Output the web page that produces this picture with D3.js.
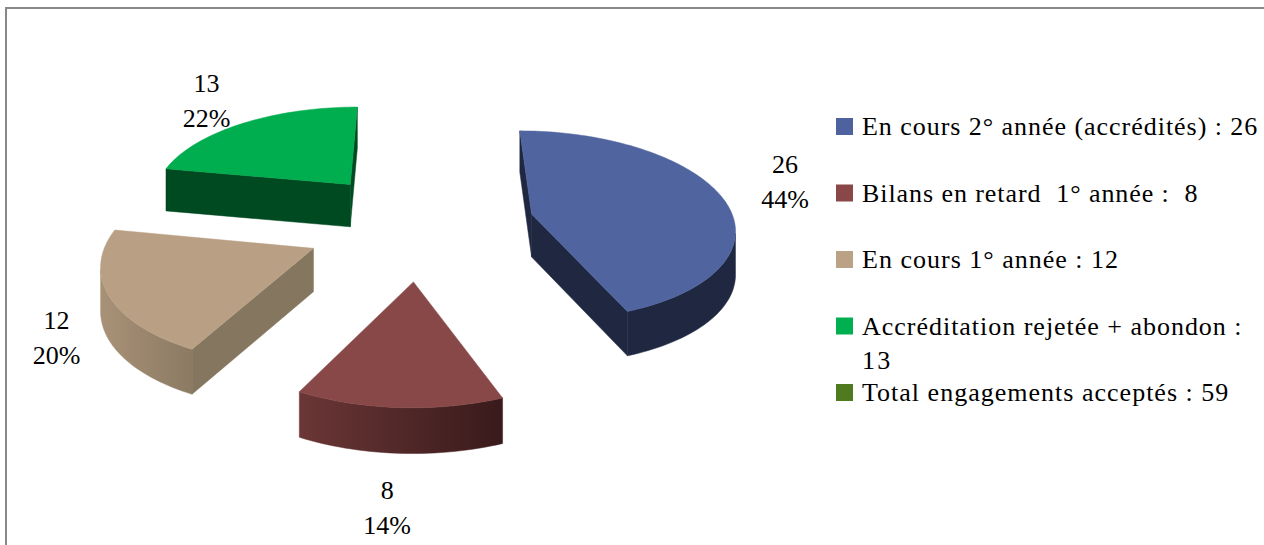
<!DOCTYPE html>
<html>
<head>
<meta charset="utf-8">
<script src="https://cdn.jsdelivr.net/npm/d3@7"></script>
<style>
  body { margin: 0; background: #fff; }
  svg { display: block; }
</style>
</head>
<body>
<svg id="chart" width="1264" height="545"></svg>
<script>
// legend categories, as written in the source sheet
var categories = [
    "En cours 2° année (accrédités) : 26",
    "Bilans en retard  1° année :  8",
    "En cours 1° année : 12",
    "Accréditation rejetée + abondon : 13",
    "Total engagements acceptés : 59"
];
// values plotted as slices (the total only shows in the legend)
var sliceValues = [26, 8, 12, 13];

// colours: legend swatches, slice tops, side walls
var legendColors = ["#4F62A0", "#8A4747", "#BBA285", "#00B050", "#4F7A1F"];
var topColors = ["#5065A0", "#884848", "#B9A085", "#00AD4F"];
var wallColors = [["#1F2840", "#1F2840"], ["#6B3636", "#391A1B"], ["#A89177", "#8C7A63"], ["#004A22", "#004A22"]];
var radialColors = ["#1F2840", "#5A2B2B", "#85765F", "#004A22"];
// where the data labels sit, relative to the outer rim of each slice
var labelShift = [[63, -16], [-12, 100], [-52, 42], [-36, -23]];

var fontFamily = "'Liberation Serif', 'DejaVu Serif', 'Times New Roman', Times, serif";

var svg = d3.select("#chart");
var defs = svg.append("defs");

// frame of the chart area (runs off the right and bottom edges)
svg.append("rect")
    .attr("x", 6).attr("y", 8)
    .attr("width", 1300).attr("height", 600)
    .attr("fill", "none")
    .attr("stroke", "#888")
    .attr("stroke-width", 2);

// 3D view settings
var cx = 420, cy = 224,      // centre of the (unexploded) top face
    R = 203,                  // radius
    explode = 115,            // explosion distance
    sinE = 0.47, cosE = 0.883, // elevation
    D = 1500,                 // perspective distance
    depth = 43;               // thickness of the pie
var camY = -D / cosE;

function project(X, Y, z) {
    var k = D / (D + Y * cosE);
    return [cx + X * k, cy - Y * sinE * k + z * Math.pow(k, 0.3)];
}

var line = d3.line();
function poly(pts) { return line(pts) + "Z"; }

var total = d3.sum(sliceValues);
var pct = d3.format(".0%");
var arcs = d3.pie().sort(null).value(d => d)(sliceValues);

// build the geometry of each slice
var slices = arcs.map(function(a, i) {
    var m = (a.startAngle + a.endAngle) / 2;
    var ox = explode * Math.sin(m), oy = explode * Math.cos(m);
    var n = Math.max(12, Math.ceil((a.endAngle - a.startAngle) / (Math.PI / 120)));
    var rim = d3.range(n + 1).map(function(j) {
        var t = a.startAngle + (a.endAngle - a.startAngle) * j / n;
        return { t: t, x: ox + R * Math.sin(t), y: oy + R * Math.cos(t) };
    });
    return { i: i, a: a, m: m, ox: ox, oy: oy, rim: rim };
});

// far slices first
slices.sort((p, q) => q.oy - p.oy);

slices.forEach(function(s) {
    var g = svg.append("g").attr("class", "slice");
    var walls = [];

    // radial walls
    [[s.a.startAngle, -1, s.rim[0]], [s.a.endAngle, 1, s.rim[s.rim.length - 1]]].forEach(function(w) {
        var nAng = w[0] + w[1] * Math.PI / 2;
        var vis = Math.sin(nAng) * (0 - s.ox) + Math.cos(nAng) * (camY - s.oy);
        if (vis > 0) {
            walls.push({
                depthY: (s.oy + w[2].y) / 2,
                d: poly([project(s.ox, s.oy, 0), project(w[2].x, w[2].y, 0),
                         project(w[2].x, w[2].y, depth), project(s.ox, s.oy, depth)]),
                fill: radialColors[s.i]
            });
        }
    });

    // outer curved wall, the part facing the viewer
    var seen = s.rim.filter(function(p) {
        return Math.sin(p.t) * (0 - p.x) + Math.cos(p.t) * (camY - p.y) > 0;
    });
    if (seen.length > 1) {
        var gid = "wall" + s.i;
        var grad = defs.append("linearGradient").attr("id", gid)
            .attr("x1", 0).attr("x2", 1).attr("y1", 0).attr("y2", 0);
        grad.append("stop").attr("offset", "0%").attr("stop-color", wallColors[s.i][0]);
        grad.append("stop").attr("offset", "100%").attr("stop-color", wallColors[s.i][1]);
        var topPts = seen.map(p => project(p.x, p.y, 0));
        var botPts = seen.map(p => project(p.x, p.y, depth)).reverse();
        walls.push({
            depthY: d3.mean(seen, p => p.y),
            d: poly(topPts.concat(botPts)),
            fill: "url(#" + gid + ")"
        });
    }

    walls.sort((p, q) => q.depthY - p.depthY).forEach(function(w) {
        g.append("path").attr("d", w.d).attr("fill", w.fill)
            .attr("stroke", w.fill).attr("stroke-width", 0.5).attr("stroke-linejoin", "round");
    });

    // top face
    var face = [project(s.ox, s.oy, 0)].concat(s.rim.map(p => project(p.x, p.y, 0)));
    g.append("path").attr("d", poly(face)).attr("fill", topColors[s.i])
        .attr("stroke", topColors[s.i]).attr("stroke-width", 0.5).attr("stroke-linejoin", "round");
});

// data labels: value and percentage
slices.forEach(function(s) {
    var L = explode + R;
    var p = project(L * Math.sin(s.m), L * Math.cos(s.m), 0);
    var lx = p[0] + labelShift[s.i][0], ly = p[1] + labelShift[s.i][1];
    var t = svg.append("text")
        .attr("text-anchor", "middle")
        .attr("font-family", fontFamily)
        .attr("font-size", 26)
        .attr("fill", "#000");
    t.append("tspan").attr("x", lx).attr("y", ly - 8.5).text(sliceValues[s.i]);
    t.append("tspan").attr("x", lx).attr("y", ly + 26.5).text(pct(sliceValues[s.i] / total));
});

// legend
var legend = svg.append("g").attr("class", "legend");
var lx0 = 836, ly0 = 135, rowStep = 66.5, stretch = 1.09, maxW = 398 / stretch;
categories.forEach(function(c, i) {
    var y = ly0 + i * rowStep;
    legend.append("rect")
        .attr("x", lx0).attr("y", y - 17)
        .attr("width", 17).attr("height", 17)
        .attr("fill", legendColors[i]);
    var t = legend.append("text")
        .attr("x", lx0 + 26).attr("y", y)
        .attr("font-family", fontFamily)
        .attr("font-size", 26)
        .attr("fill", "#000")
        .style("white-space", "pre");
    // simple word wrap
    var words = c.split(" "), cur = "", lineNo = 0;
    var ts = t.append("tspan").attr("x", lx0 + 26).attr("y", y);
    words.forEach(function(w, k) {
        var next = k === 0 ? w : cur + " " + w;
        ts.text(next);
        if (ts.node().getComputedTextLength() > maxW && cur !== "") {
            ts.text(cur);
            lineNo++;
            ts = t.append("tspan").attr("x", lx0 + 26).attr("y", y + lineNo * 34).text(w);
            cur = w;
        } else {
            cur = next;
        }
    });
    // stretch the line to the width of the original book face
    t.selectAll("tspan").each(function() {
        var w = this.getComputedTextLength();
        d3.select(this).attr("textLength", w * stretch).attr("lengthAdjust", "spacing");
    });
});
</script>
</body>
</html>
